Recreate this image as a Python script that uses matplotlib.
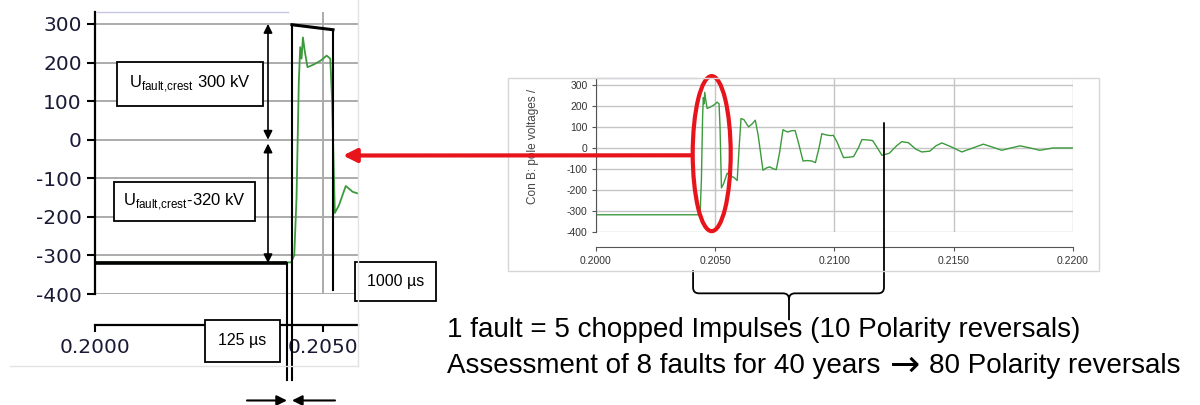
import matplotlib
matplotlib.use("Agg")
import matplotlib.pyplot as plt
from matplotlib.patches import Ellipse, ConnectionPatch, PathPatch, Rectangle
from matplotlib.path import Path
from matplotlib.lines import Line2D

plt.rcParams["font.family"] = ["Liberation Sans", "DejaVu Sans"]
plt.rcParams["mathtext.fontset"] = "custom"
plt.rcParams["mathtext.rm"] = "Liberation Sans"
plt.rcParams["axes.unicode_minus"] = False

# -----------------------------
# data
# -----------------------------
time_s = [0.20000, 0.20430, 0.20437, 0.20442, 0.20447, 0.20450, 0.20453, 0.20456,
          0.20460, 0.20466, 0.20480, 0.20495, 0.20508, 0.20516, 0.20520, 0.20526,
          0.20535, 0.20550, 0.20565, 0.20578, 0.20592, 0.20600, 0.20608, 0.20620,
          0.20640, 0.20655, 0.20668, 0.20680, 0.20700, 0.20715, 0.20728, 0.20745,
          0.20756, 0.20770, 0.20784, 0.20795, 0.20803, 0.20820, 0.20835, 0.20850,
          0.20868, 0.20885, 0.20905, 0.20920, 0.20935, 0.20947, 0.20965, 0.20982,
          0.20995, 0.21010, 0.21038, 0.21060, 0.21080, 0.21100, 0.21115, 0.21140,
          0.21160, 0.21180, 0.21199, 0.21230, 0.21260, 0.21282, 0.21310, 0.21340,
          0.21366, 0.21400, 0.21425, 0.21450, 0.21490, 0.21534, 0.21580, 0.21624,
          0.21660, 0.21701, 0.21740, 0.21778, 0.21820, 0.21861, 0.21917, 0.22000]
voltage_kv = [-318, -318, -300, -150, 150, 240, 210, 265,
              230, 188, 195, 205, 218, 210, 100, -190,
              -170, -120, -135, -140, -155, 0, 140, 135,
              100, 115, 132, 60, -106, -95, -90, -100,
              -103, -20, 87, 80, 76, 82, 83, 20,
              -62, -60, -62, -70, 0, 68, 62, 59,
              60, 30, -46, -44, -41, 0, 40, 38,
              35, 0, -35, -25, 10, 30, 25, -5,
              -19, -15, 10, 24, 5, -19, 0, 18,
              5, -11, 0, 10, 0, -11, 0, 0]

y_ticks = [300, 200, 100, 0, -100, -200, -300, -400]
x_ticks_zoom = [0.2000, 0.2050]
x_ticks_full = [0.2000, 0.2050, 0.2100, 0.2150, 0.2200]

crest_pos = 300
crest_neg = -320
t_chop_start = 0.20421   # end of -320 kV level
t_rise = 0.20432         # start of chopped impulse
t_chop_end = 0.20522     # chop of first impulse

GREEN = "#3c9a3c"

fig = plt.figure(figsize=(12, 4.05), dpi=100)

# panel frames (screenshot borders)
fig.add_artist(Line2D([10 / 1200, 358 / 1200], [1 - 366 / 405] * 2, color="#e2e2e2", lw=1))
fig.add_artist(Line2D([358 / 1200] * 2, [1 - 366 / 405, 1], color="#e2e2e2", lw=1))
fig.add_artist(Rectangle((508 / 1200, 1 - 271 / 405), 591 / 1200, 193 / 405,
                         fill=False, ec="#d6d6d6", lw=1, transform=fig.transFigure))

# -----------------------------
# left: zoomed view
# -----------------------------
ax_l = fig.add_axes([95 / 1200, 1 - 294 / 405, 263 / 1200, 282 / 405])
ax_l.plot(time_s, voltage_kv, color=GREEN, lw=1.3, zorder=2)
ax_l.set_xlim(0.2000, 0.205768)
ax_l.set_ylim(-400, 331)
ax_l.set_yticks(y_ticks)
ax_l.set_xticks(x_ticks_zoom)
ax_l.set_xticklabels(["%.4f" % t for t in x_ticks_zoom])
ax_l.grid(True, color="#ababab", lw=1.4)
ax_l.set_axisbelow(True)
for s in ["top", "right"]:
    ax_l.spines[s].set_visible(False)
ax_l.spines["left"].set_linewidth(1.6)
ax_l.spines["bottom"].set_linewidth(1.6)
ax_l.spines["bottom"].set_position(("outward", 22))
ax_l.tick_params(axis="y", length=5.5, width=1.5, pad=4, labelsize=14.5, labelcolor="#1a1a36")
ax_l.tick_params(axis="x", length=5, width=1.5, pad=5, labelsize=14.5, labelcolor="#1a1a36")
for lab in ax_l.get_xticklabels() + ax_l.get_yticklabels():
    lab.set_family("DejaVu Sans")
ax_l.plot([0.20005, 0.20424], [331, 331], color="#c4c4e4", lw=1, clip_on=False)

# annotations on the zoomed view
k = dict(color="black", clip_on=False, zorder=4)
ax_l.plot([0.2000, t_chop_start], [crest_neg, crest_neg], lw=2.6, solid_capstyle="butt", **k)
ax_l.plot([t_chop_start, t_chop_start], [crest_neg, -624], lw=1.5, **k)
ax_l.plot([t_rise, t_rise], [crest_pos - 2, -624], lw=1.5, **k)
ax_l.plot([t_rise, t_chop_end], [crest_pos - 2, 285], lw=2.2, **k)
ax_l.plot([t_chop_end, t_chop_end], [285, -389], lw=1.5, **k)

arr = dict(arrowstyle="<|-|>", color="black", lw=1.2, mutation_scale=13, shrinkA=0, shrinkB=0)
ax_l.annotate("", xy=(0.203794, crest_pos), xytext=(0.203794, 0), arrowprops=arr, annotation_clip=False)
ax_l.annotate("", xy=(0.203794, -10), xytext=(0.203794, crest_neg), arrowprops=arr, annotation_clip=False)

one = dict(arrowstyle="-|>", color="black", lw=1.5, mutation_scale=15, shrinkA=0, shrinkB=0)
ax_l.annotate("", xy=(t_chop_start, -676), xytext=(0.203333, -676), arrowprops=one, annotation_clip=False)
ax_l.annotate("", xy=(t_rise, -676), xytext=(0.205263, -676), arrowprops=one, annotation_clip=False)

ax_l.text(0.202083, 144, r"U$_{\rm fault,\!crest}$ 300 kV", fontsize=12, ha="center", va="center",
          bbox=dict(boxstyle="square,pad=0.7", fc="white", ec="black", lw=1.3), zorder=5)
ax_l.text(0.201963, -161, r"U$_{\rm fault,\!crest}$-320 kV", fontsize=12, ha="center", va="center",
          bbox=dict(boxstyle="square,pad=0.55", fc="white", ec="black", lw=1.3), zorder=5)
ax_l.text(0.206590, -368, "1000 µs", fontsize=11.5, ha="center", va="center", zorder=5, clip_on=False,
          bbox=dict(boxstyle="square,pad=0.75", fc="white", ec="black", lw=1.3))
ax_l.text(0.203235, -521, "125 µs", fontsize=11.5, ha="center", va="center", zorder=5, clip_on=False,
          bbox=dict(boxstyle="square,pad=0.85", fc="white", ec="black", lw=1.3))

# -----------------------------
# right: full recording
# -----------------------------
ax_r = fig.add_axes([596 / 1200, 1 - 232 / 405, 477 / 1200, 154 / 405])
ax_r.plot(time_s, voltage_kv, color=GREEN, lw=1.0, zorder=2)
ax_r.set_xlim(0.2000, 0.2200)
ax_r.set_ylim(-400, 333)
ax_r.set_yticks(y_ticks)
ax_r.set_xticks(x_ticks_full)
ax_r.set_xticklabels(["%.4f" % t for t in x_ticks_full])
ax_r.grid(True, color="#c4c4c4", lw=1.0)
ax_r.set_axisbelow(True)
for s in ["top", "right"]:
    ax_r.spines[s].set_visible(False)
ax_r.spines["left"].set_color("#555555")
ax_r.spines["bottom"].set_color("#555555")
ax_r.spines["bottom"].set_position(("outward", 11))
ax_r.tick_params(length=3, pad=3, labelsize=7.5, labelcolor="#333333", color="#555555")
ax_r.set_ylabel("Con B: pole voltages /", fontsize=8.5, color="#444444")
ax_r.yaxis.set_label_coords(-0.119, 0.555)
ax_r.plot([0.20005, 0.20425], [333, 333], color="#c4c4e4", lw=1, clip_on=False)

# red ellipse round the first impulse and arrow to the zoom
ax_r.add_patch(Ellipse((0.204851, -27), 0.001593, 738, fill=False, ec="#e8141c", lw=3,
                       clip_on=False, zorder=5))
fig.add_artist(ConnectionPatch(xyA=(0.203983, -35), coordsA="data", axesA=ax_r,
                               xyB=(0.205439, -41), coordsB="data", axesB=ax_l,
                               arrowstyle="-|>", color="#e8141c", lw=3, mutation_scale=20,
                               shrinkA=0, shrinkB=0, zorder=6))

# brace under the five chopped impulses
tl, tc, tr = 0.20407, 0.208092, 0.212075
vh, vtip = -692, -820
dt, dv = 0.00025, 28
verts = [(tl, -582), (tl, vh + dv), (tl, vh), (tl + dt, vh),
         (tc - dt, vh), (tc, vh), (tc, vh - dv), (tc, vtip),
         (tc, vh - dv), (tc, vh), (tc + dt, vh),
         (tr - dt, vh), (tr, vh), (tr, vh + dv), (tr, 122)]
codes = [Path.MOVETO, Path.LINETO, Path.CURVE3, Path.CURVE3,
         Path.LINETO, Path.CURVE3, Path.CURVE3, Path.LINETO,
         Path.MOVETO, Path.CURVE3, Path.CURVE3,
         Path.LINETO, Path.CURVE3, Path.CURVE3, Path.LINETO]
ax_r.add_patch(PathPatch(Path(verts, codes), fill=False, ec="black", lw=1.3, clip_on=False, zorder=5))

# -----------------------------
# caption
# -----------------------------
cap_size = 20
fig.text(447 / 1200, 1 - 330 / 405, "1 fault = 5 chopped Impulses (10 Polarity reversals)",
         fontsize=cap_size, va="center", ha="left", color="black")
part1 = fig.text(447 / 1200, 1 - 366 / 405, "Assessment of 8 faults for 40 years",
                 fontsize=cap_size, va="center", ha="left", color="black")
part2 = ax_r.annotate("\u2192", xy=(1, 0.5), xycoords=part1, xytext=(7, 0), textcoords="offset points",
                      fontsize=26, family="DejaVu Sans", va="center", ha="left",
                      annotation_clip=False)
ax_r.annotate("80 Polarity reversals", xy=(1, 0.5), xycoords=part2, xytext=(6, 0),
              textcoords="offset points", fontsize=cap_size, va="center", ha="left",
              annotation_clip=False)

fig.savefig("out.png", dpi=100)
plt.close(fig)
